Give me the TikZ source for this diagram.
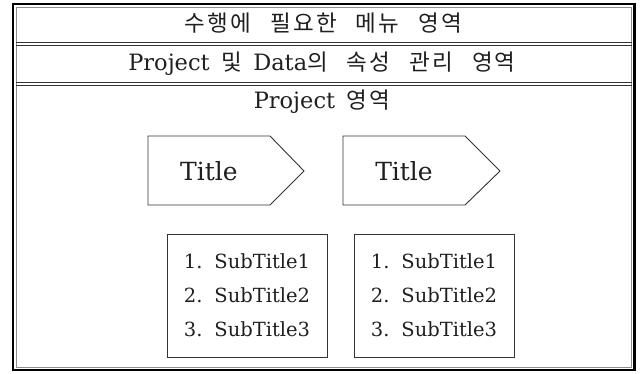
\documentclass[tikz,border=0pt]{standalone}
\usepackage{fontspec}
\setmainfont{DejaVu Serif}
\newfontfamily\kr{Noto Sans CJK KR}[LetterSpace=10, WordSpace=2.6]
\newfontfamily\hdrlat{DejaVu Serif}[WordSpace=2.2]
\newfontfamily\sublat{DejaVu Serif}[WordSpace=1.6]
\begin{document}
\begin{tikzpicture}[x=1pt,y=-1pt,
  txt/.style={text=black!88, inner sep=0pt},
  hdr/.style={txt, font=\hdrlat\fontsize{22.5}{26}\selectfont},
  sep/.style={draw=black!80, line width=1.1pt},
  pent/.style={draw=black!80, line width=0.9pt},
  ttl/.style={txt, font=\fontsize{25}{30}\selectfont},
  subbox/.style={draw=black!80, line width=0.9pt, minimum width=160pt, minimum height=123pt, align=left, inner sep=0pt, text=black!88, font=\sublat\fontsize{19.5}{34}\selectfont}
]
\useasboundingbox (0,0) rectangle (644,374);
% outer double frame
\draw[line width=2.4pt, black] (13,4) rectangle (634.5,370);
\draw[line width=0.9pt, black!45] (16,7) rectangle (631.5,367);
% row separators
\draw[sep] (16,42.5) -- (631.5,42.5);
\draw[sep] (16,45.2) -- (631.5,45.2);
\draw[sep] (16,82.5) -- (631.5,82.5);
\draw[sep] (16,85.2) -- (631.5,85.2);
% header texts
\node[hdr] (menu) at (323.5,23) {\kr 수행에 필요한 메뉴 영역};
\node[hdr] (attr) at (322,63.5) {Project {\kr 및} Data{\kr 의 속성 관리 영역}};
\node[hdr] (proj) at (322,102) {Project {\kr 영역}};
% pentagons
\draw[pent] (148,136) -- (270,136) -- (304,171) -- (270,205) -- (148,205) -- cycle;
\draw[pent] (343,136) -- (465,136) -- (500,171) -- (465,205) -- (343,205) -- cycle;
\node[ttl] (t1) at (209,171) {Title};
\node[ttl] (t2) at (404,171) {Title};
% sub boxes
\node[subbox] (s1) at (247,295.5) {1. SubTitle1\\2. SubTitle2\\3. SubTitle3};
\node[subbox] (s2) at (434,295.5) {1. SubTitle1\\2. SubTitle2\\3. SubTitle3};
\end{tikzpicture}
\end{document}
